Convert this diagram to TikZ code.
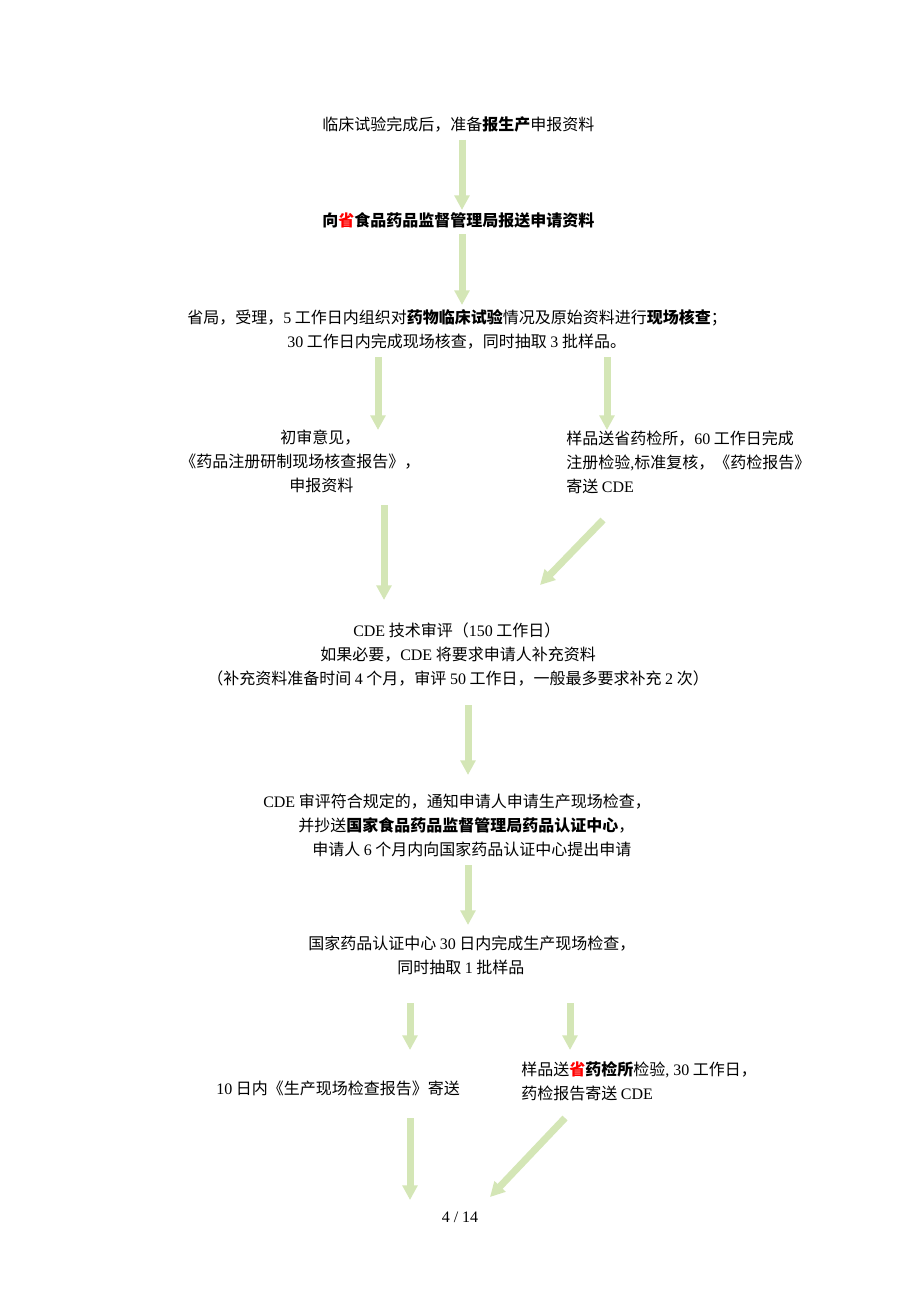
\documentclass[tikz,border=0pt]{standalone}
\usepackage{fontspec}
\setmainfont{Noto Sans CJK SC}
\newfontfamily\lat{Liberation Serif}
\newcommand{\en}[1]{{\lat #1}}
\usetikzlibrary{arrows.meta}
\definecolor{arrowgreen}{RGB}{212,230,182}

\begin{document}
\begin{tikzpicture}[x=0.75pt, y=-0.75pt,
	txt/.style={anchor=west, align=left, inner sep=0pt, font=\fontsize{12pt}{18pt}\selectfont},
	blk/.style={draw=arrowgreen, line width=5.25pt, -{Triangle[width=11pt,length=11pt]}}]
		\fill[white] (0,0) rectangle (920,1302);
		\useasboundingbox (0,0) rectangle (920,1302);

		% テキストを配置
		\node[txt] (A) at (322,124) {临床试验完成后，准备\textbf{报生产}申报资料};
		\node[txt] (B) at (322,220) {\textbf{向\textcolor{red}{省}食品药品监督管理局报送申请资料}};
		\node[txt] (C) at (187,329) {省局，受理，\en{5} 工作日内组织对\textbf{药物临床试验}情况及原始资料进行\textbf{现场核查}；\\\hspace*{75pt}\en{30} 工作日内完成现场核查，同时抽取 \en{3} 批样品。};
		\node[txt] (D) at (180,461) {\hspace*{75pt}初审意见，\\《药品注册研制现场核查报告》，\\\hspace*{81.75pt}申报资料};
		\node[txt] (E) at (566,462) {样品送省药检所，\en{60} 工作日完成\\注册检验\en{,}标准复核，《药检报告》\\寄送 \en{CDE}};
		\node[txt] (F) at (207,655) {\hspace*{109.5pt}\en{CDE} 技术审评（\en{150} 工作日）\\\hspace*{84.75pt}如果必要，\en{CDE} 将要求申请人补充资料\\（补充资料准备时间 \en{4} 个月，审评 \en{50} 工作日，一般最多要求补充 \en{2} 次）};
		\node[txt] (G) at (263,825) {\en{CDE} 审评符合规定的，通知申请人申请生产现场检查，\\\hspace*{26.25pt}并抄送\textbf{国家食品药品监督管理局药品认证中心}，\\\hspace*{36.75pt}申请人 \en{6} 个月内向国家药品认证中心提出申请};
		\node[txt] (H) at (308,955) {国家药品认证中心 \en{30} 日内完成生产现场检查，\\\hspace*{66.75pt}同时抽取 \en{1} 批样品};
		\node[txt] (I) at (216,1088) {\en{10} 日内《生产现场检查报告》寄送};
		\node[txt] (J) at (521,1081) {样品送\textbf{\textcolor{red}{省}药检所}检验\en{, 30} 工作日，\\药检报告寄送 \en{CDE}};
		\node[txt, anchor=center] (K) at (460,1217) {\en{4 / 14}};

		% 矢印の端点
		\coordinate (P1) at (462,140);  \coordinate (Q1) at (462,210);
		\coordinate (P2) at (462,234);  \coordinate (Q2) at (462,305);
		\coordinate (P3) at (378,357);  \coordinate (Q3) at (378,430);
		\coordinate (P4) at (607,357);  \coordinate (Q4) at (607,430);
		\coordinate (P5) at (384,505);  \coordinate (Q5) at (384,600);
		\coordinate (P6) at (603,520);  \coordinate (Q6) at (540,585);
		\coordinate (P7) at (468,705);  \coordinate (Q7) at (468,775);
		\coordinate (P8) at (468,865);  \coordinate (Q8) at (468,925);
		\coordinate (P9) at (410,1003); \coordinate (Q9) at (410,1050);
		\coordinate (P10) at (570,1003); \coordinate (Q10) at (570,1050);
		\coordinate (P11) at (410,1118); \coordinate (Q11) at (410,1200);
		\coordinate (P12) at (565,1118); \coordinate (Q12) at (490,1197);

		% 矢印を描画
		\foreach \i in {1,...,12}
			\draw[blk] (P\i) -- (Q\i);
	\end{tikzpicture}
\end{document}
